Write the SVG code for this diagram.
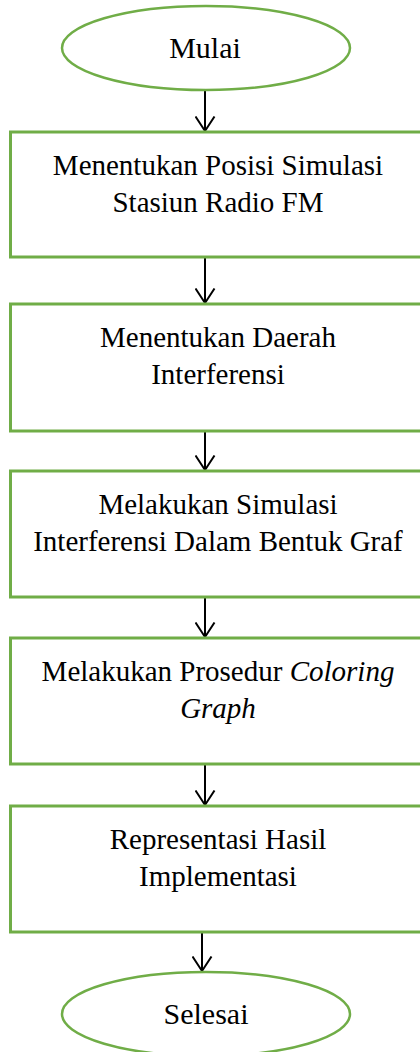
<svg xmlns="http://www.w3.org/2000/svg" width="420" height="1052" viewBox="0 0 420 1052">
  <style>
    .term { fill: #ffffff; stroke: #70AD47; stroke-width: 2.5; }
    .proc { fill: #ffffff; stroke: #70AD47; stroke-width: 3; }
    .label { font-family: "Liberation Serif", "Times New Roman", serif; font-size: 29px; fill: #000000; text-anchor: middle; }
    .big { font-size: 30px; }
    .flow { stroke: #000000; stroke-width: 2; fill: none; }
  </style>
  <defs>
    <marker id="head" markerWidth="24" markerHeight="20" refX="10" refY="15" orient="0" markerUnits="userSpaceOnUse">
      <path d="M0.5,0.5 L10,15 L19.5,0.5" fill="none" stroke="#000" stroke-width="2"/>
    </marker>
  </defs>
  <rect width="420" height="1052" fill="#ffffff"/>

  <g id="connectors">
    <line class="flow" x1="205" y1="90" x2="205" y2="131" marker-end="url(#head)"/>
    <line class="flow" x1="205" y1="258" x2="205" y2="303" marker-end="url(#head)"/>
    <line class="flow" x1="205" y1="432" x2="205" y2="470" marker-end="url(#head)"/>
    <line class="flow" x1="205" y1="598" x2="205" y2="637" marker-end="url(#head)"/>
    <line class="flow" x1="205" y1="765" x2="205" y2="805" marker-end="url(#head)"/>
    <line class="flow" x1="202" y1="933" x2="202" y2="971" marker-end="url(#head)"/>
  </g>

  <g id="start">
    <ellipse class="term" cx="206" cy="48" rx="144" ry="42"/>
    <text class="label big" x="205" y="58">Mulai</text>
  </g>

  <g id="step1">
    <rect class="proc" x="10.5" y="132" width="416" height="125"/>
    <text class="label" x="218" y="175">Menentukan Posisi Simulasi</text>
    <text class="label" x="218" y="212">Stasiun Radio FM</text>
  </g>

  <g id="step2">
    <rect class="proc" x="10.5" y="304" width="416" height="127"/>
    <text class="label" x="218" y="347">Menentukan Daerah</text>
    <text class="label" x="218" y="384">Interferensi</text>
  </g>

  <g id="step3">
    <rect class="proc" x="10.5" y="471" width="416" height="126"/>
    <text class="label" x="218" y="514">Melakukan Simulasi</text>
    <text class="label" x="218" y="551">Interferensi Dalam Bentuk Graf</text>
  </g>

  <g id="step4">
    <rect class="proc" x="10.5" y="638" width="416" height="126"/>
    <text class="label" x="218" y="681">Melakukan Prosedur <tspan font-style="italic">Coloring</tspan></text>
    <text class="label" x="218" y="718" font-style="italic">Graph</text>
  </g>

  <g id="step5">
    <rect class="proc" x="10.5" y="806" width="416" height="126"/>
    <text class="label" x="218" y="849">Representasi Hasil</text>
    <text class="label" x="218" y="886">Implementasi</text>
  </g>

  <g id="end">
    <ellipse class="term" cx="206" cy="1014" rx="144" ry="42"/>
    <text class="label big" x="206" y="1024">Selesai</text>
  </g>
</svg>
